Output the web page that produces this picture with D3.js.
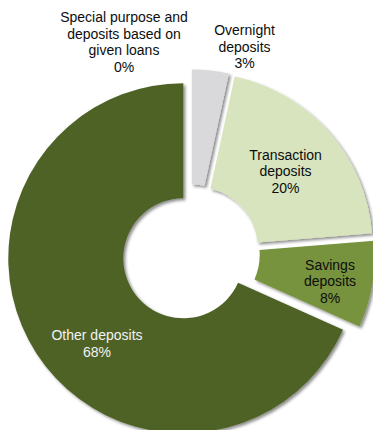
<!DOCTYPE html>
<html>
<head>
<meta charset="utf-8">
<script src="https://cdn.jsdelivr.net/npm/d3@7"></script>
<style>
  body { margin: 0; background: #ffffff; }
  svg { display: block; }
  text { font-family: "Liberation Sans", Arial, sans-serif; font-size: 14px; }
</style>
</head>
<body>
<script>
// Deposit structure, shares in percent (clockwise from 12 o'clock)
const categories = [
  "Special purpose and deposits based on given loans",
  "Overnight deposits",
  "Transaction deposits",
  "Savings deposits",
  "Other deposits"
];
const shares = [0, 3.4, 20.3, 8.0, 68.3];
const labelLines = [
  ["Special purpose and", "deposits based on", "given loans"],
  ["Overnight", "deposits"],
  ["Transaction", "deposits"],
  ["Savings", "deposits"],
  ["Other deposits"]
];

// Presentation settings
const width = 373, height = 430;
const center = [190.85, 253.4];
const innerR = 60, outerR = 175, explode = 9;
const fills = ["#BFBFBF", "#D9D9DB", "#D7E4BD", "#77933C", "#4F6228"];
const textFills = ["#0d0d0d", "#0d0d0d", "#0d0d0d", "#0d0d0d", "#F2F2F2"];
// x = centre of the label block, y = baseline of its first line
const labelAnchor = [[124, 22], [244.5, 35], [285.5, 159.5], [330, 269.5], [97, 340]];
const lineStep = 16.5;

const svg = d3.select("body").append("svg")
  .attr("width", width).attr("height", height);

const defs = svg.append("defs");
defs.append("filter").attr("id", "sliceShadow")
  .attr("x", "-20%").attr("y", "-20%").attr("width", "140%").attr("height", "140%")
  .append("feDropShadow")
  .attr("dx", 2).attr("dy", 2).attr("stdDeviation", 1.6)
  .attr("flood-color", "#000").attr("flood-opacity", 0.45);

const pie = d3.pie().sort(null).value(d => d)
  .startAngle(0).endAngle(2 * Math.PI);
const arcs = pie(shares);
const arc = d3.arc().innerRadius(innerR).outerRadius(outerR);

const g = svg.append("g").attr("transform", `translate(${center[0]},${center[1]})`);

g.selectAll("path.slice")
  .data(arcs)
  .join("path")
  .attr("class", "slice")
  .attr("d", arc)
  .attr("fill", (d, i) => fills[i])
  .attr("filter", "url(#sliceShadow)")
  .attr("transform", d => {
    const mid = (d.startAngle + d.endAngle) / 2;
    return `translate(${explode * Math.sin(mid)},${-explode * Math.cos(mid)})`;
  });

const pct = d3.format(".0f");
const labels = svg.append("g").attr("text-anchor", "middle");
categories.forEach((name, i) => {
  const lines = labelLines[i].concat([pct(shares[i]) + "%"]);
  const t = labels.append("text")
    .attr("x", labelAnchor[i][0])
    .attr("y", labelAnchor[i][1])
    .attr("fill", textFills[i]);
  lines.forEach((ln, k) => {
    t.append("tspan")
      .attr("x", labelAnchor[i][0])
      .attr("y", labelAnchor[i][1] + k * lineStep)
      .text(ln);
  });
});
</script>
</body>
</html>
